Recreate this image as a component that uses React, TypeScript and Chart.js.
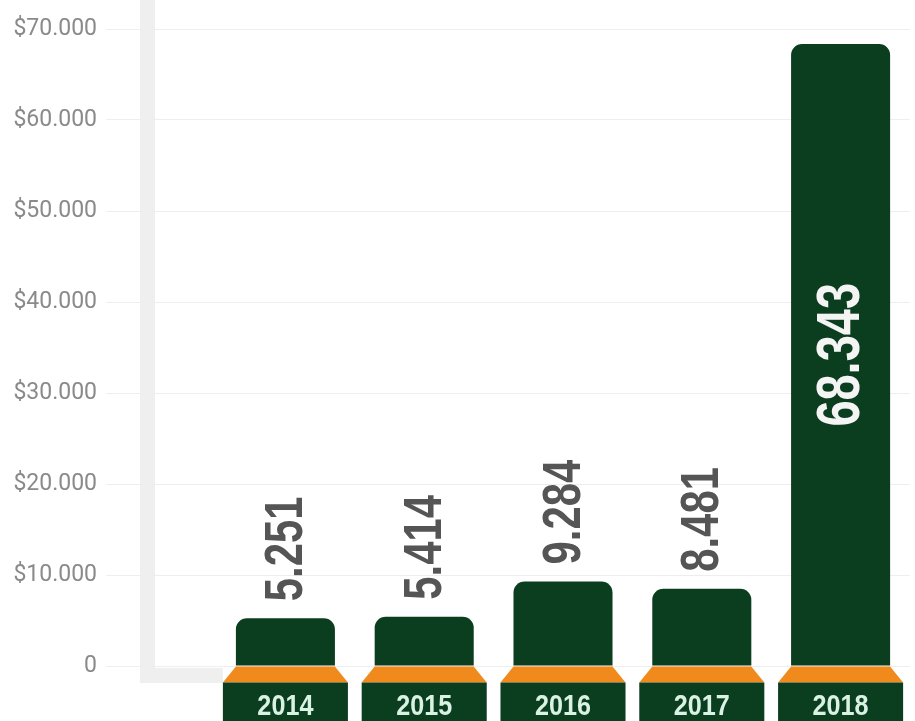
import React, { useEffect, useRef } from 'react';
import { Chart, registerables } from 'chart.js';

Chart.register(...registerables);

// ---- data ----
const years: string[] = ['2014', '2015', '2016', '2017', '2018'];
const revenue: number[] = [5251, 5414, 9284, 8481, 68343];
const yTickValues: number[] = [0, 10000, 20000, 30000, 40000, 50000, 60000, 70000];
const yMin = 0;
const yMax = 72000;

const fmt = (v: number) => Math.round(v).toString().replace(/\B(?=(\d{3})+(?!\d))/g, '.');

// ---- styles ----
const GREEN = '#0b3d1f';
const ORANGE = '#f08a1c';
const SANS = '"Liberation Sans", Arial, sans-serif';

const decorPlugin = {
  id: 'decor',
  beforeDraw(chart: any) {
    const { ctx, chartArea } = chart;
    const meta = chart.getDatasetMeta(0);
    const first = meta.data[0];
    const firstBoxLeft = first ? first.x - first.width / 2 - 13 : chartArea.left;
    const bx = chartArea.left - 76;
    ctx.save();
    ctx.fillStyle = '#efefef';
    ctx.fillRect(bx, 0, 15, chartArea.bottom + 2);
    ctx.fillRect(bx, chartArea.bottom + 2, firstBoxLeft - bx, 15);
    ctx.restore();
  },
  afterDatasetsDraw(chart: any) {
    const { ctx } = chart;
    const meta = chart.getDatasetMeta(0);
    meta.data.forEach((bar: any, i: number) => {
      const { x, y, base, width } = bar.getProps(['x', 'y', 'base', 'width'], true);
      const ext = 13;
      const trapH = 17;
      const l = x - width / 2;
      const r = x + width / 2;
      ctx.save();
      // orange trapezoid
      ctx.fillStyle = ORANGE;
      ctx.beginPath();
      ctx.moveTo(l, base + 1);
      ctx.lineTo(r, base + 1);
      ctx.lineTo(r + ext, base + trapH);
      ctx.lineTo(l - ext, base + trapH);
      ctx.closePath();
      ctx.fill();
      // year box
      ctx.fillStyle = GREEN;
      ctx.fillRect(l - ext, base + trapH, width + 2 * ext, chart.height - (base + trapH));
      ctx.save();
      ctx.translate(x, base + 49);
      ctx.scale(0.84, 1);
      ctx.fillStyle = '#d9f2e4';
      ctx.font = `bold 30px ${SANS}`;
      ctx.textAlign = 'center';
      ctx.textBaseline = 'alphabetic';
      ctx.fillText(years[i], 0, 0);
      ctx.restore();
      // value label
      const label = fmt(revenue[i]);
      const barH = base - y;
      if (barH > 250) {
        ctx.translate(x, (y + base) / 2);
        ctx.rotate(-Math.PI / 2);
        ctx.scale(0.77, 1);
        ctx.fillStyle = '#f4f4f4';
        ctx.font = `bold 61px ${SANS}`;
        ctx.textAlign = 'center';
        ctx.textBaseline = 'middle';
        ctx.fillText(label, 0, 2);
      } else {
        ctx.translate(x, y - 17);
        ctx.rotate(-Math.PI / 2);
        ctx.scale(0.79, 1);
        ctx.fillStyle = '#555555';
        ctx.font = `bold 53px ${SANS}`;
        ctx.textAlign = 'left';
        ctx.textBaseline = 'middle';
        ctx.fillText(label, 0, 2);
      }
      ctx.restore();
    });
  },
};

export default function App() {
  const ref = useRef<HTMLCanvasElement | null>(null);
  useEffect(() => {
    document.body.style.margin = '0';
    if (!ref.current) return;
    const chart = new Chart(ref.current, {
      type: 'bar',
      data: {
        labels: years,
        datasets: [
          {
            data: revenue,
            backgroundColor: GREEN,
            borderWidth: 0,
            borderRadius: 11,
            borderSkipped: 'start',
            barPercentage: 0.7135,
            categoryPercentage: 1,
          },
        ],
      },
      options: {
        responsive: false,
        maintainAspectRatio: false,
        animation: false,
        layout: { padding: { top: 10.8, bottom: 55, left: 0, right: 5 } },
        plugins: {
          legend: { display: false },
          tooltip: { enabled: false },
        },
        scales: {
          x: { display: false },
          y: {
            min: yMin,
            max: yMax,
            border: { display: false },
            grid: { color: '#eeeeee', lineWidth: 1, drawTicks: true, tickLength: 110 },
            ticks: {
              padding: 9,
              color: '#8a8a8a',
              font: { family: 'Roboto', size: 23 },
              callback: (v: any) => (Number(v) === 0 ? '0' : '$' + fmt(Number(v))),
            },
            afterBuildTicks: (scale: any) => {
              scale.ticks = yTickValues.map((v) => ({ value: v }));
            },
            afterFit: (scale: any) => {
              scale.width = 216;
              scale.paddingTop = 0;
              scale.paddingBottom = 0;
            },
          },
        },
      },
      plugins: [decorPlugin],
    });
    return () => chart.destroy();
  }, []);
  return (
    <div style={{ width: 915, height: 721, position: 'relative', overflow: 'hidden' }}>
      <canvas ref={ref} width={915} height={721} style={{ display: 'block' }} />
    </div>
  );
}
